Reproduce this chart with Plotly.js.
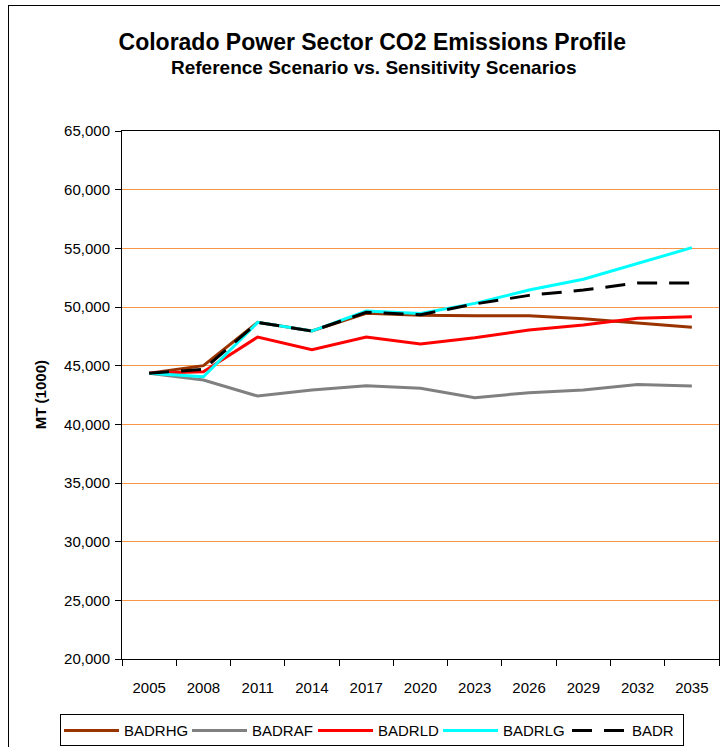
<!DOCTYPE html>
<html>
<head>
<meta charset="utf-8">
<script src="https://cdn.plot.ly/plotly-3.0.1.min.js"></script>
<style>
  html, body { margin: 0; padding: 0; background: #ffffff; }
  #wrap { position: relative; width: 720px; height: 747px; overflow: hidden; }
  #frame { position: absolute; left: 8px; top: 5px; width: 730px; height: 760px;
           border: 1px solid #000000; box-sizing: border-box; pointer-events: none; }
  #legend-box { position: absolute; left: 60px; top: 714px; width: 624px; height: 32px;
                border: 1px solid #000000; box-sizing: border-box; pointer-events: none; }
  #chart { position: absolute; left: 0; top: 0; width: 720px; height: 747px; }
</style>
</head>
<body>
<div id="wrap">
  <div id="chart"></div>
  <div id="frame"></div>
  <div id="legend-box"></div>
</div>
<script>
// Study years (category axis)
const years = ['2005', '2008', '2011', '2014', '2017', '2020', '2023', '2026', '2029', '2032', '2035'];

// CO2 emissions, thousand metric tons, by scenario
const badrhg = [44350, 45000, 48690, 47950, 49460, 49300, 49260, 49260, 49000, 48610, 48270];
const badraf = [44350, 43780, 42410, 42930, 43290, 43070, 42270, 42700, 42930, 43400, 43270];
const badrld = [44350, 44490, 47440, 46360, 47440, 46850, 47380, 48040, 48460, 49040, 49170];
const badrlg = [44350, 44060, 48690, 47950, 49660, 49440, 50310, 51450, 52360, 53720, 55060];
const badr   = [44350, 44680, 48690, 47950, 49550, 49350, 50260, 50990, 51450, 52045, 52045];

const seriesNames = ['BADRHG', 'BADRAF', 'BADRLD', 'BADRLG', 'BADR'];

const chartTitle = 'Colorado Power Sector CO2 Emissions Profile';
const chartSubtitle = 'Reference Scenario vs. Sensitivity Scenarios';
const yTitle = 'MT (1000)';

const font = 'Liberation Sans, Arial, sans-serif';

// One single-entry legend per series, laid out left to right in a row
const legendIds = ['legend', 'legend2', 'legend3', 'legend4', 'legend5'];
const legendLeft = [59, 187, 313, 438, 567];

function line(i, y, color, dash) {
  return {
    type: 'scatter', mode: 'lines', name: seriesNames[i],
    x: years, y: y,
    legend: legendIds[i],
    line: { color: color, width: 3, dash: dash || 'solid' },
    hoverinfo: 'skip'
  };
}

const data = [
  line(0, badrhg, '#993300'),
  line(1, badraf, '#808080'),
  line(2, badrld, '#FF0000'),
  line(3, badrlg, '#00FFFF'),
  line(4, badr,   '#000000', '20px,12px')
];

const layout = {
  width: 720, height: 747,
  paper_bgcolor: '#ffffff', plot_bgcolor: '#ffffff',
  margin: { l: 122, r: 1, t: 131, b: 88, pad: 0 },
  font: { family: font, color: '#000000', size: 15 },
  title: {
    text: '<b>' + chartTitle + '</b>',
    font: { family: font, size: 23, color: '#000000' },
    x: 0.517, xanchor: 'center', xref: 'container',
    y: 0.944, yanchor: 'middle', yref: 'container'
  },
  xaxis: {
    type: 'category',
    range: [-0.5, years.length - 0.5],
    tickson: 'boundaries',
    ticks: 'outside', ticklen: 6, tickcolor: '#000000', tickwidth: 1,
    ticklabelstandoff: 15,
    showline: true, linecolor: '#000000', linewidth: 1, mirror: true,
    showgrid: false, zeroline: false,
    tickfont: { family: font, size: 15, color: '#000000' },
    fixedrange: true
  },
  yaxis: {
    range: [20000, 65000], dtick: 5000, tick0: 20000,
    tickformat: ',d',
    ticks: 'outside', ticklen: 6, tickcolor: '#000000', tickwidth: 1,
    ticklabelstandoff: 2,
    showline: true, linecolor: '#000000', linewidth: 1, mirror: true,
    showgrid: true, gridcolor: '#F79646', gridwidth: 1,
    zeroline: false,
    tickfont: { family: font, size: 15, color: '#000000' },
    fixedrange: true
  },
  showlegend: true,
  annotations: [
    {
      text: '<b>' + chartSubtitle + '</b>',
      xref: 'paper', yref: 'paper',
      x: 0.422, y: 1.12, xanchor: 'center', yanchor: 'middle',
      showarrow: false,
      font: { family: font, size: 19, color: '#000000' }
    },
    {
      text: '<b>' + yTitle + '</b>',
      xref: 'paper', yref: 'paper',
      x: -0.137, y: 0.5, xanchor: 'center', yanchor: 'middle',
      textangle: -90, showarrow: false,
      font: { family: font, size: 15, color: '#000000' }
    }
  ]
};

legendIds.forEach(function (id, i) {
  layout[id] = {
    orientation: 'h',
    xref: 'container', yref: 'container',
    x: legendLeft[i] / 720, xanchor: 'left',
    y: 0.044, yanchor: 'top',
    borderwidth: 0,
    bgcolor: 'rgba(0,0,0,0)',
    font: { family: font, size: 15, color: '#000000' },
    itemwidth: 55
  };
});

Plotly.newPlot('chart', data, layout, { displayModeBar: false, staticPlot: true });
</script>
</body>
</html>
